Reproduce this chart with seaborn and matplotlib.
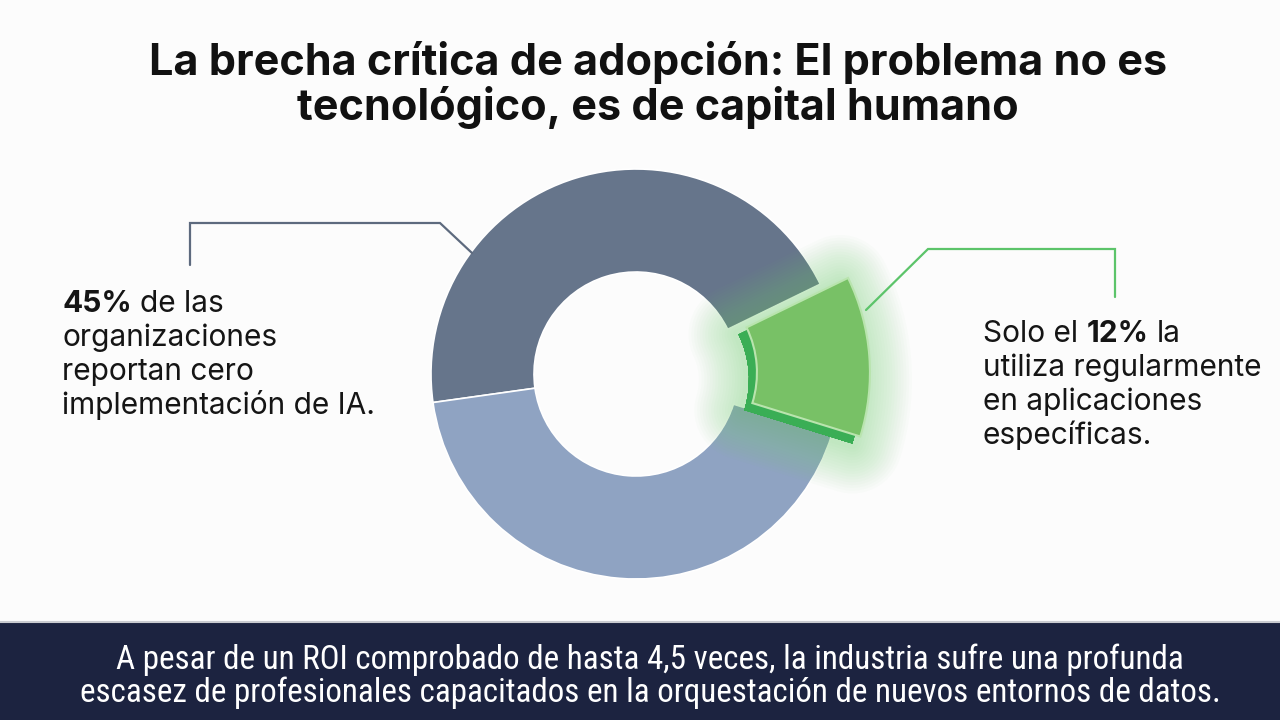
import matplotlib.pyplot as plt
import matplotlib.patheffects as pe
from matplotlib import font_manager
import seaborn as sns

# datos del grafico
categorias = ["Cero implementacion de IA", "Uso regular en aplicaciones", "Resto"]
porcentajes = [45, 12, 43]
colores = ["#66758b", "#78c166", "#8fa3c2"]
verde_oscuro = "#3aae55"
verde_brillo = "#72d070"

titulo = ["La brecha crítica de adopción: El problema no es",
          "tecnológico, es de capital humano"]
texto_izq = [[("45%", "bold"), ("de las", "normal")],
             [("organizaciones", "normal")],
             [("reportan cero", "normal")],
             [("implementación de IA.", "normal")]]
texto_der = [[("Solo el", "normal"), ("12%", "bold"), ("la", "normal")],
             [("utiliza regularmente", "normal")],
             [("en aplicaciones", "normal")],
             [("específicas.", "normal")]]
pie_texto = ["A pesar de un ROI comprobado de hasta 4,5 veces, la industria sufre una profunda",
             "escasez de profesionales capacitados en la orquestación de nuevos entornos de datos."]

sns.set_theme(style="white")
plt.rcParams['font.family'] = ['Inter', 'DejaVu Sans']

# fuente estrecha para el texto inferior, si hay alguna
estrechas = []
for f in font_manager.fontManager.ttflist:
    angosta = ('Narrow' in f.name or 'Condensed' in f.name
               or str(f.stretch) in ('condensed', 'semi-condensed', 'extra-condensed'))
    if angosta and f.style == 'normal' and str(f.weight) in ('400', 'normal', 'regular'):
        estrechas.append(f)
orden = ['Liberation Sans Narrow', 'Roboto Condensed', 'Noto Sans', 'Open Sans', 'DejaVu Sans']
estrechas.sort(key=lambda f: orden.index(f.name) if f.name in orden else 99)
if estrechas:
    fp_pie = font_manager.FontProperties(fname=estrechas[0].fname)
else:
    fp_pie = font_manager.FontProperties(family='Roboto')

fig = plt.figure(figsize=(12.8, 7.2), dpi=100, facecolor="#fcfcfc")
ax = fig.add_axes([0, 0, 1, 1])
ax.set_facecolor("#fcfcfc")
r = fig.canvas.get_renderer()


def Y(y):
    return 720 - y


# donut principal
centro = (636, Y(374))
w, _ = ax.pie(porcentajes, colors=colores, startangle=188, counterclock=False,
              radius=205, center=centro,
              wedgeprops=dict(width=103, edgecolor="white", linewidth=1.2))
w[1].set_visible(False)
for p in w:
    p.set_zorder(1)

# sombra + brillo del segmento destacado (explode en unidades de datos = px)
w, _ = ax.pie(porcentajes, colors=colores, startangle=188, counterclock=False,
              radius=216, center=(centro[0] - 8, centro[1] - 7),
              explode=[0, 18, 0],
              wedgeprops=dict(width=113, linewidth=0))
for i, p in enumerate(w):
    if i != 1:
        p.set_visible(False)
w[1].set_facecolor(verde_oscuro)
w[1].set_zorder(2)
w[1].set_path_effects([pe.withStroke(linewidth=lw, foreground=verde_brillo, alpha=0.028,
                                     joinstyle="round", capstyle="round")
                       for lw in range(72, 4, -4)] + [pe.Normal()])

w, _ = ax.pie(porcentajes, colors=colores, startangle=188, counterclock=False,
              radius=216, center=centro, explode=[0, 18, 0],
              wedgeprops=dict(width=113, edgecolor="#b9e4ae", linewidth=1.5))
for i, p in enumerate(w):
    if i != 1:
        p.set_visible(False)
w[1].set_zorder(3)

# lineas guia
ax.plot([190, 190, 440, 472], [Y(265), Y(223), Y(223), Y(253)],
        color="#5d6a7e", lw=1.6, zorder=4, solid_joinstyle="miter")
ax.plot([866, 928, 1115, 1115], [Y(310), Y(249), Y(249), Y(297)],
        color="#5cc46a", lw=1.6, zorder=4, solid_joinstyle="miter")

# franja inferior
ax.axhspan(0, Y(622), color="#1c2340", zorder=0)
ax.axhline(Y(622), color="#c9cbd0", lw=1.5, zorder=0)


def ancho(s, **kw):
    t = ax.text(0, 0, s, **kw)
    a = t.get_window_extent(renderer=r).width
    t.remove()
    return a


def linea(x, y, partes, size):
    esp = ancho("n n", fontsize=size) - ancho("nn", fontsize=size)
    for i, (s, peso) in enumerate(partes):
        if i > 0:
            x += esp
        t = ax.text(x, y, s, fontsize=size, fontweight=peso, color="#151515",
                    va="baseline", ha="left", zorder=5)
        x += t.get_window_extent(renderer=r).width


# titulo
tam = 20 * 1019 / ancho(titulo[0], fontsize=20, fontweight="bold")
for s, yb in zip(titulo, [75, 120]):
    ax.text(658, Y(yb), s, fontsize=tam, fontweight="bold", color="#111111",
            ha="center", va="baseline")

# etiquetas
for partes, yb in zip(texto_izq, [312, 346, 380, 414]):
    linea(62, Y(yb), partes, 21.5)
for partes, yb in zip(texto_der, [342, 376, 410, 444]):
    linea(983, Y(yb), partes, 21.5)

# texto inferior
fp_pie.set_size(20)
tam = 20 * 1137 / ancho(pie_texto[1], fontproperties=fp_pie)
fp_pie.set_size(tam)
for s, yb in zip(pie_texto, [669, 702]):
    ax.text(650, Y(yb), s, fontproperties=fp_pie, color="white",
            ha="center", va="baseline")

ax.set_xlim(0, 1280)
ax.set_ylim(0, 720)
ax.set_aspect("auto")
ax.axis("off")
fig.savefig("out.png", dpi=100, facecolor=fig.get_facecolor())
